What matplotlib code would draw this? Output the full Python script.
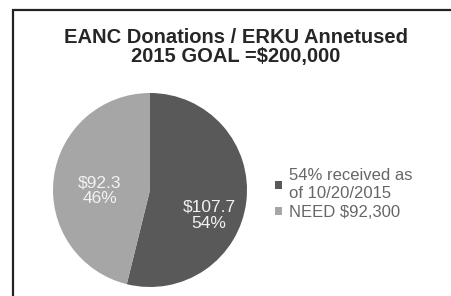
import matplotlib
matplotlib.use("Agg")
import matplotlib.pyplot as plt
from matplotlib.patches import Rectangle

plt.rcParams['font.family'] = ['Liberation Sans', 'DejaVu Sans']

title = "EANC Donations / ERKU Annetused\n2015 GOAL =$200,000"
categories = ["54% received as\nof 10/20/2015", "NEED $92,300"]
values = [107.7, 92.3]
percents = [54, 46]
colors = ["#595959", "#a6a6a6"]

W, H = 452, 296
fig = plt.figure(figsize=(W / 100, H / 100), dpi=100)
fig.patch.set_facecolor("white")

# frame
fig.patches.append(Rectangle((13 / W, -0.2), 1.2, (H - 10) / H + 0.2,
                             transform=fig.transFigure, fill=False,
                             edgecolor="#222222", linewidth=1.6))

cx, cy, r = 150, 190, 97
ax = fig.add_axes([(cx - r) / W, (H - cy - r) / H, 2 * r / W, 2 * r / H])
labels = [f"${v}\n{p}%" for v, p in zip(values, percents)]
wedges, texts = ax.pie(values, colors=colors, startangle=90, counterclock=False,
                       labels=labels, labeldistance=0.6,
                       textprops=dict(color="#f2f2f2", fontsize=12.5, ha="center",
                                      va="center", linespacing=1.05),
                       wedgeprops=dict(linewidth=0))
label_pos = [(0.61, -0.26), (-0.515, -0.01)]
for t, p in zip(texts, label_pos):
    t.set_position(p)
ax.set_xlim(-1, 1)
ax.set_ylim(-1, 1)
ax.set_aspect("equal")
ax.axis("off")

fig.text(236 / W, 1 - 47 / H, title, ha="center", va="center",
         fontsize=14.5, fontweight="bold", color="#262626", linespacing=1.0)

leg = fig.legend(wedges, categories, loc="upper left",
                 bbox_to_anchor=(267 / W, 1 - 160 / H), frameon=False,
                 fontsize=12, handlelength=0.4, handleheight=0.4,
                 handletextpad=0.4, labelspacing=0.2, borderpad=0)
for t in leg.get_texts():
    t.set_color("#666666")
    t.set_linespacing(1.25)

fig.savefig("out.png", dpi=100, facecolor="white")
